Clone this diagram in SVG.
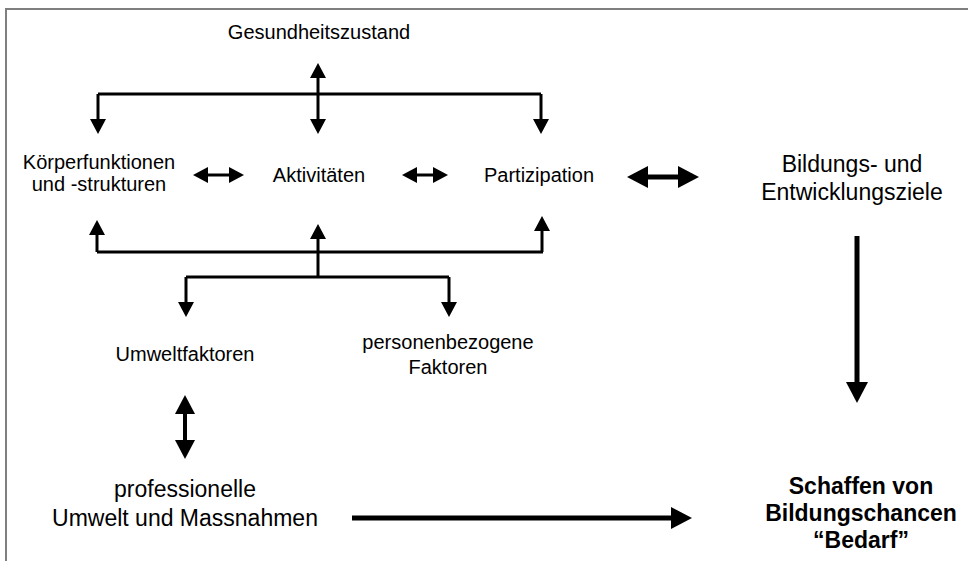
<svg xmlns="http://www.w3.org/2000/svg" width="968" height="561" viewBox="0 0 968 561">
  <style>
    .t { font-family: "Liberation Sans", Arial, sans-serif; font-size: 20px; fill: #000; text-anchor: middle; }
    .t23 { font-size: 23px; }
    .b { font-family: "Liberation Sans", Arial, sans-serif; font-size: 23px; font-weight: bold; fill: #000; text-anchor: middle; }
    .thin { stroke: #000; stroke-width: 3; fill: none; }
    .thick { stroke: #000; stroke-width: 5; fill: none; }
    .mid { stroke: #000; stroke-width: 4; fill: none; }
    .frame { stroke: #7f7f7f; stroke-width: 2; fill: none; }
  </style>
  <defs>
    <marker id="ah" markerUnits="userSpaceOnUse" markerWidth="15" markerHeight="16" viewBox="0 0 15 16" refX="1" refY="8" orient="auto-start-reverse">
      <path d="M0,0 L15,8 L0,16 Z" fill="#000"/>
    </marker>
    <marker id="ahBig" markerUnits="userSpaceOnUse" markerWidth="21" markerHeight="22" viewBox="0 0 21 22" refX="1" refY="11" orient="auto-start-reverse">
      <path d="M0,0 L21,11 L0,22 Z" fill="#000"/>
    </marker>
    <marker id="ahMid" markerUnits="userSpaceOnUse" markerWidth="19" markerHeight="20" viewBox="0 0 19 20" refX="1" refY="10" orient="auto-start-reverse">
      <path d="M0,0 L19,10 L0,20 Z" fill="#000"/>
    </marker>
  </defs>

  <g id="frame">
    <path class="frame" d="M6,561 V9 H968"/>
  </g>

  <g id="connectors">
    <!-- top bracket -->
    <path class="thin" d="M98,94 H541"/>
    <line class="thin" x1="98" y1="94" x2="98" y2="120" marker-end="url(#ah)"/>
    <line class="thin" x1="541" y1="94" x2="541" y2="120" marker-end="url(#ah)"/>
    <line class="thin" x1="318" y1="77" x2="318" y2="120" marker-start="url(#ah)" marker-end="url(#ah)"/>
    <!-- middle row -->
    <line class="thin" x1="207" y1="175" x2="230" y2="175" marker-start="url(#ah)" marker-end="url(#ah)"/>
    <line class="thin" x1="416" y1="175" x2="434" y2="175" marker-start="url(#ah)" marker-end="url(#ah)"/>
    <line class="thick" x1="647" y1="177" x2="679" y2="177" marker-start="url(#ahBig)" marker-end="url(#ahBig)"/>
    <!-- lower bracket -->
    <path class="thin" d="M97,252 H543"/>
    <line class="thin" x1="97" y1="252" x2="97" y2="234" marker-end="url(#ah)"/>
    <line class="thin" x1="542" y1="252" x2="542" y2="230" marker-end="url(#ah)"/>
    <line class="thin" x1="318" y1="277" x2="318" y2="238" marker-end="url(#ah)"/>
    <path class="thin" d="M186,277 H449"/>
    <line class="thin" x1="186" y1="277" x2="186" y2="303" marker-end="url(#ah)"/>
    <line class="thin" x1="449" y1="277" x2="449" y2="303" marker-end="url(#ah)"/>
    <!-- Umwelt to professionelle -->
    <line class="mid" x1="185" y1="413" x2="185" y2="441" marker-start="url(#ahMid)" marker-end="url(#ahMid)"/>
    <!-- professionelle to Schaffen -->
    <line class="thick" x1="352" y1="518" x2="672" y2="518" marker-end="url(#ahBig)"/>
    <!-- Bildungsziele to Schaffen -->
    <line class="thick" x1="857" y1="236" x2="857" y2="383" marker-end="url(#ahBig)"/>
  </g>

  <g id="gesundheitszustand">
    <text class="t" x="319" y="39">Gesundheitszustand</text>
  </g>
  <g id="koerperfunktionen">
    <text class="t" x="99" y="169">Körperfunktionen</text>
    <text class="t" x="99" y="191">und -strukturen</text>
  </g>
  <g id="aktivitaeten">
    <text class="t" x="319" y="182">Aktivitäten</text>
  </g>
  <g id="partizipation">
    <text class="t" x="539" y="182">Partizipation</text>
  </g>
  <g id="bildungsziele">
    <text class="t t23" x="852" y="172">Bildungs- und</text>
    <text class="t t23" x="852" y="200">Entwicklungsziele</text>
  </g>
  <g id="umweltfaktoren">
    <text class="t" x="185" y="361">Umweltfaktoren</text>
  </g>
  <g id="personenbezogene">
    <text class="t" x="448" y="349">personenbezogene</text>
    <text class="t" x="448" y="374">Faktoren</text>
  </g>
  <g id="professionelle">
    <text class="t t23" x="185" y="497">professionelle</text>
    <text class="t t23" x="185" y="526">Umwelt und Massnahmen</text>
  </g>
  <g id="schaffen">
    <text class="b" x="861" y="494">Schaffen von</text>
    <text class="b" x="861" y="521">Bildungschancen</text>
    <text class="b" x="861" y="548">“Bedarf”</text>
  </g>
</svg>
